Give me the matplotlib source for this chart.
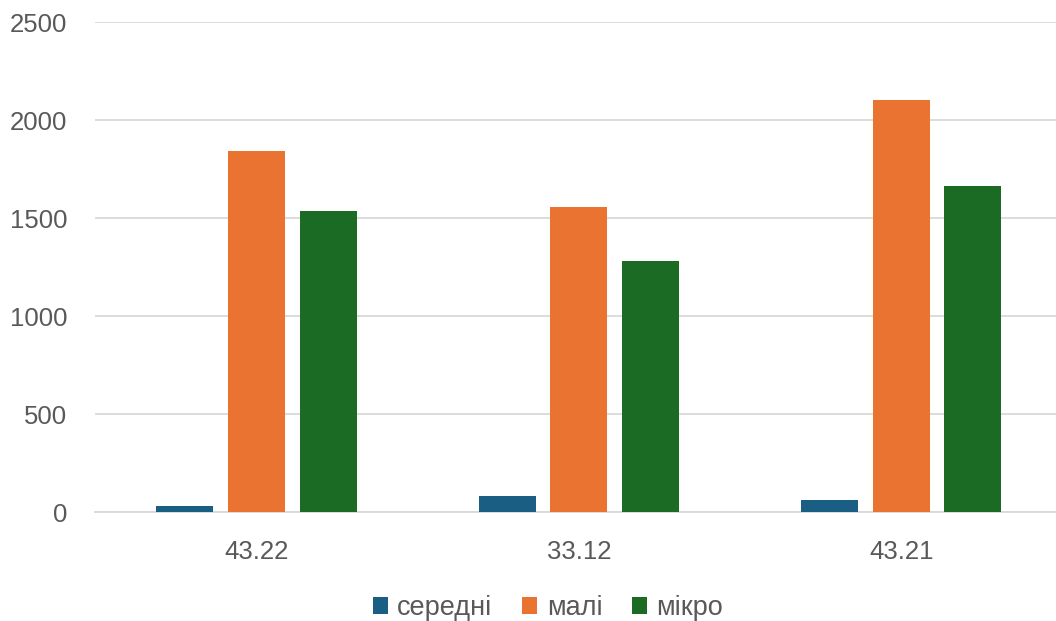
import numpy as np
import matplotlib.pyplot as plt

categories = ['43.22', '33.12', '43.21']
serednі = [30, 80, 60]
mali = [1843, 1554, 2102]
mikro = [1536, 1282, 1663]
series_names = ['середні', 'малі', 'мікро']
colors = ['#1B5E84', '#EA7332', '#1C6B25']

plt.rcParams['font.family'] = ['Liberation Sans', 'DejaVu Sans']

fig = plt.figure(figsize=(10.56, 6.21), dpi=100)
ax = fig.add_axes([0.0902, 0.1755, 0.916, 0.789])

x = np.arange(len(categories))
width = 0.177
step = 0.222
for i, (vals, name, c) in enumerate(zip([serednі, mali, mikro], series_names, colors)):
    ax.bar(x + (i - 1) * step, vals, width, color=c, label=name, zorder=3)

ax.set_xlim(-0.5, 2.5)
ax.set_ylim(0, 2500)
ax.set_yticks(range(0, 2501, 500))
ax.set_xticks(x)
ax.set_xticklabels(categories)
ax.grid(axis='y', color='#d9d9d9', linewidth=1.3, zorder=0)
for s in ['top', 'right', 'left']:
    ax.spines[s].set_visible(False)
ax.spines['bottom'].set_color('#d9d9d9')
ax.spines['bottom'].set_linewidth(1.3)
ax.tick_params(axis='both', length=0, labelsize=18.5, labelcolor='#595959')
ax.tick_params(axis='y', pad=20)
ax.tick_params(axis='x', pad=20)

fig.legend(loc='center', bbox_to_anchor=(0.519, 0.021), ncol=3, frameon=False,
           fontsize=19.5, labelcolor='#595959', handlelength=0.55, handleheight=0.55,
           handletextpad=0.35, columnspacing=1.1)

fig.savefig('out.png', dpi=100)
